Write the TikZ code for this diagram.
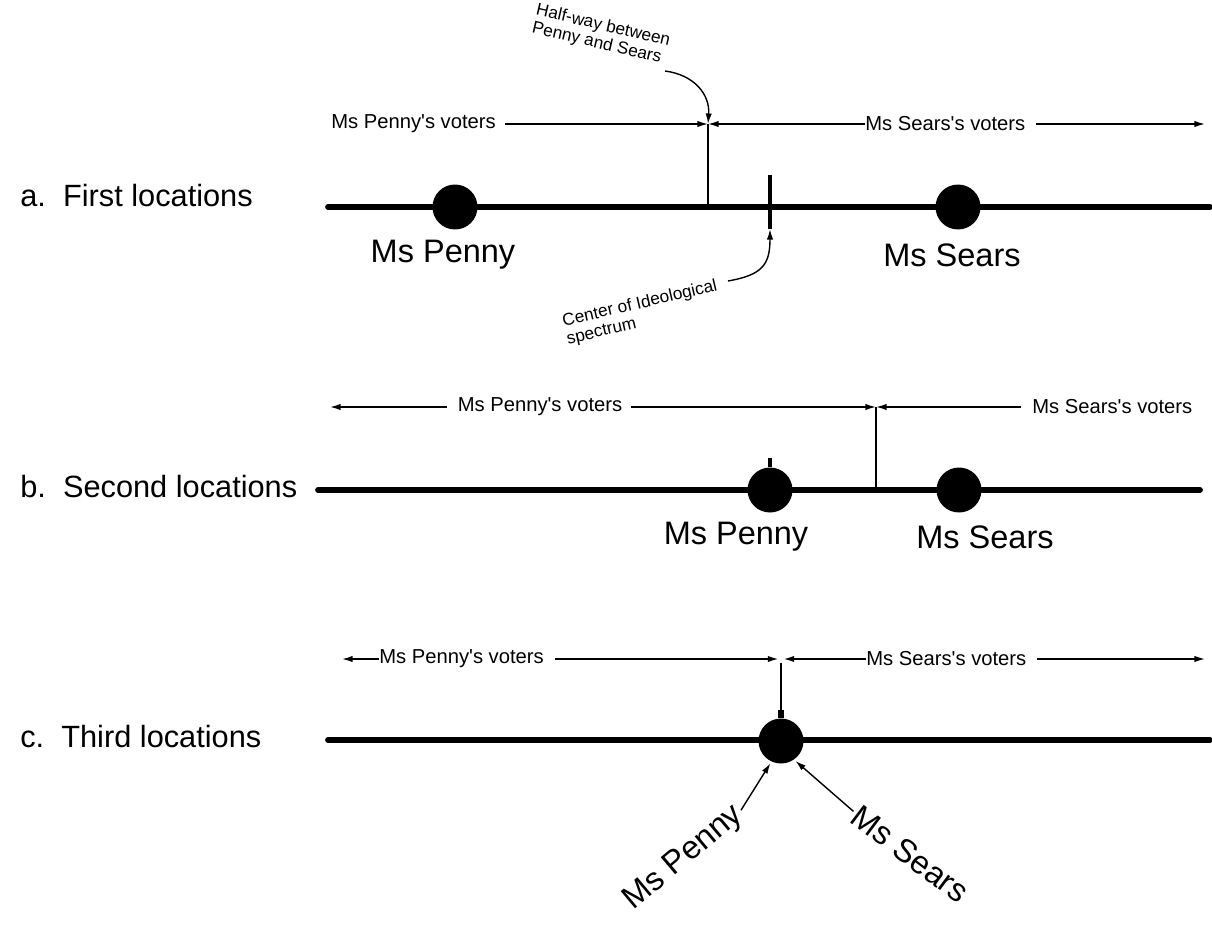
\documentclass[tikz,border=0pt]{standalone}
\usepackage{fontspec}
\setmainfont{Liberation Sans}
\newfontfamily\arial{Liberation Sans}
\usetikzlibrary{arrows.meta, positioning, calc}

\begin{document}
\begin{tikzpicture}[x=0.02cm, y=-0.02cm,
  axis/.style={line width=3.3pt, line cap=round},
  cand/.style={circle, fill=black, inner sep=0pt, minimum size=0.9cm},
  thin/.style={line width=0.8pt},
  arr/.style={thin, -{Latex[length=6pt, width=3.6pt]}},
  who/.style={font=\arial\fontsize{18.5}{20}\selectfont},
  rowlab/.style={font=\arial\fontsize{17.5}{20}\selectfont, anchor=west, inner sep=0pt},
  voters/.style={font=\arial\fontsize{11.5}{13}\selectfont, inner sep=0pt},
  note/.style={font=\arial\fontsize{9.8}{10.5}\selectfont, align=left, inner sep=0pt}]
  \useasboundingbox (0,0) rectangle (1212,929);

  % a. first locations
  \node[rowlab] (rowA) at (20,196) {a.\ \ First locations};
  \coordinate (aL) at (328,207);
  \coordinate (aR) at (1210,207);
  \draw[axis] (aL) -- (aR);
  \node[cand] (pennyA) at (455,207) {};
  \node[cand] (searsA) at (958,207) {};
  \node[who] (pennyAlab) at (443,255) {Ms Penny};
  \node[who] (searsAlab) at (952,255) {Ms Sears};
  \coordinate (midA) at (708,124);
  \coordinate (midAb) at (708,207);
  \draw[thin] (midA) -- (midAb);
  \coordinate (ctrT) at (770,175);
  \coordinate (ctrB) at (770,229);
  \draw[line width=2.8pt] (ctrT) -- (ctrB);
  \node[voters, anchor=west] (pvA) at (331,124) {Ms Penny's voters};
  \draw[arr] ([xshift=5pt]pvA.east) -- (midA);
  \node[voters, anchor=west] (svA) at (865,124) {Ms Sears's voters};
  \coordinate (aEnd) at (1205,124);
  \draw[arr] (svA.west) -- (midA);
  \draw[arr] ([xshift=6pt]svA.east) -- (aEnd);
  \node[note, rotate=-13] (halfway) at (601,35) {Half-way between\\Penny and Sears};
  \coordinate (hwStart) at (665,71);
  \draw[arr] (hwStart) .. controls (695,75) and (710,95) .. (midA);
  \node[note, rotate=13] (center) at (642,313) {Center of Ideological\\spectrum};
  \coordinate (ctrStart) at (728,281);
  \draw[arr] (ctrStart) .. controls (762,275) and (770,265) .. (ctrB);

  % b. second locations
  \node[rowlab] (rowB) at (20,487) {b.\ \ Second locations};
  \coordinate (bL) at (318,490);
  \coordinate (bR) at (1200,490);
  \draw[axis] (bL) -- (bR);
  \node[cand] (pennyB) at (770,490) {};
  \node[cand] (searsB) at (959,490) {};
  \coordinate (tickB) at (770,458);
  \draw[line width=2.5pt] (tickB) -- (pennyB.north);
  \node[who] (pennyBlab) at (736,537) {Ms Penny};
  \node[who] (searsBlab) at (985,537) {Ms Sears};
  \coordinate (midB) at (876,407);
  \coordinate (midBb) at (876,490);
  \draw[thin] (midB) -- (midBb);
  \node[voters] (pvB) at (540,407) {Ms Penny's voters};
  \coordinate (bStart) at (330,407);
  \draw[arr] ([xshift=-6pt]pvB.west) -- (bStart);
  \draw[arr] ([xshift=5pt]pvB.east) -- (midB);
  \node[voters, anchor=west] (svB) at (1032,407) {Ms Sears's voters};
  \draw[arr] ([xshift=-6pt]svB.west) -- (midB);

  % c. third locations
  \node[rowlab] (rowC) at (20,736) {c.\ \ Third locations};
  \coordinate (cL) at (328,740);
  \coordinate (cR) at (1210,740);
  \draw[axis] (cL) -- (cR);
  \node[cand] (bothC) at (781,741) {};
  \coordinate (midC) at (781,659);
  \coordinate (tickC) at (781,710);
  \draw[thin] ([yshift=-2pt]midC) -- (tickC);
  \draw[line width=3pt] (tickC) -- (bothC.north);
  \node[voters, anchor=west] (pvC) at (379,659) {Ms Penny's voters};
  \coordinate (cStart) at (342,659);
  \draw[arr] (pvC.west) -- (cStart);
  \draw[arr, shorten >=1.5pt] ([xshift=6pt]pvC.east) -- (midC);
  \node[voters, anchor=west] (svC) at (866,659) {Ms Sears's voters};
  \coordinate (cEnd) at (1205,659);
  \draw[arr, shorten >=1.5pt] (svC.west) -- (midC);
  \draw[arr] ([xshift=6pt]svC.east) -- (cEnd);
  \node[who, rotate=40, inner sep=1pt] (pennyClab) at (684,858) {Ms Penny};
  \node[who, rotate=-37, inner sep=1pt] (searsClab) at (910,854) {Ms Sears};
  \draw[arr, shorten >=1pt] (pennyClab.east) -- (bothC.245);
  \draw[arr, shorten >=1pt] (searsClab.west) -- (bothC.305);
\end{tikzpicture}
\end{document}
